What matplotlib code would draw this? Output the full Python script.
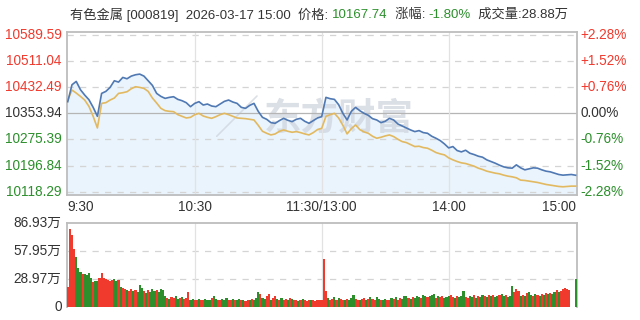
import numpy as np
import matplotlib
matplotlib.use("Agg")
import matplotlib.pyplot as plt

FONT = ['Liberation Sans', 'Noto Sans CJK SC', 'DejaVu Sans']
plt.rcParams['font.family'] = FONT

# ---- data ----
prev_close = 10353.94
price_ticks = [10589.59, 10511.04, 10432.49, 10353.94, 10275.39, 10196.84, 10118.29]
pct_labels = ['+2.28%', '+1.52%', '+0.76%', '0.00%', '-0.76%', '-1.52%', '-2.28%']
time_labels = ['9:30', '10:30', '11:30/13:00', '14:00', '15:00']
time_pos = [0, 60, 120, 180, 240]
vol_ticks = [0, 28.97, 57.95, 86.93]
vol_labels = ['0', '28.97万', '57.95万', '86.93万']

# index, sampled every 2 minutes (0..240)
index_price = [
    10389, 10440, 10450, 10425, 10409, 10395, 10372, 10345, 10414, 10420,
    10432, 10452, 10448, 10462, 10458, 10466, 10470, 10472, 10466, 10452,
    10438, 10414, 10405, 10399, 10402, 10404, 10396, 10392, 10386, 10374,
    10384, 10389, 10379, 10382, 10376, 10374, 10382, 10390, 10394, 10388,
    10384, 10372, 10369, 10378, 10384, 10360, 10342, 10336, 10326, 10324,
    10332, 10339, 10333, 10329, 10336, 10339, 10330, 10324, 10332, 10340,
    10344, 10402, 10398, 10396, 10380, 10354, 10334, 10360, 10372, 10362,
    10354, 10348, 10338, 10334, 10326, 10330, 10339, 10334, 10322, 10316,
    10310, 10304, 10299, 10302, 10296, 10294, 10285, 10279, 10272, 10262,
    10250, 10254, 10242, 10238, 10243, 10234, 10230, 10225, 10222, 10214,
    10209, 10204, 10198, 10193, 10190, 10189, 10199, 10190, 10184, 10187,
    10190, 10189, 10184, 10180, 10178, 10174, 10170, 10168, 10169, 10170,
    10167.74,
]
avg_price = [
    10394, 10424, 10415, 10405, 10394, 10375, 10345, 10310, 10384, 10386,
    10394, 10400, 10414, 10416, 10419, 10428, 10434, 10432, 10429, 10420,
    10400, 10385, 10369, 10362, 10360, 10359, 10350, 10345, 10340, 10342,
    10350, 10354, 10346, 10342, 10339, 10344, 10350, 10354, 10350, 10345,
    10340, 10339, 10338, 10336, 10334, 10318, 10300, 10294, 10289, 10292,
    10300, 10304, 10300, 10297, 10299, 10296, 10292, 10289, 10296, 10305,
    10309, 10345, 10350, 10354, 10340, 10318, 10292, 10308, 10319, 10305,
    10298, 10294, 10285, 10279, 10282, 10286, 10289, 10284, 10276, 10269,
    10266, 10260, 10254, 10255, 10251, 10249, 10243, 10236, 10232, 10229,
    10220, 10214, 10209, 10205, 10203, 10199, 10195, 10189, 10185, 10180,
    10177, 10174, 10172, 10168, 10165, 10163, 10160, 10153, 10152, 10150,
    10148, 10146, 10143, 10140, 10138, 10136, 10134, 10133, 10134, 10135,
    10135,
]

# volume per minute, in 万
volume = [
    21, 80, 74, 60, 52, 40, 36, 34, 34, 33,
    35, 30, 26, 27, 27, 30, 35, 30, 29, 28,
    27, 28, 29, 27, 28, 21, 20, 19, 18, 17,
    19, 17, 18, 16, 23, 20, 17, 15, 18, 16,
    19, 17, 18, 16, 19, 18, 12, 10, 9, 11,
    10, 12, 9, 10, 11, 9, 10, 16, 8, 9,
    7, 8, 9, 7, 8, 9, 7, 8, 10, 12,
    9, 8, 7, 9, 8, 10, 8, 7, 9, 8,
    7, 9, 8, 7, 6, 8, 7, 9, 8, 10,
    16, 14, 10, 9, 12, 14, 8, 10, 12, 9,
    8, 10, 7, 9, 8, 10, 9, 7, 8, 6,
    8, 9, 7, 6, 8, 7, 7, 6, 8, 7,
    8, 50, 17, 10, 8, 9, 11, 8, 10, 9,
    8, 7, 9, 8, 10, 13, 9, 8, 7, 9,
    10, 8, 9, 11, 9, 8, 11, 9, 7, 8,
    9, 7, 8, 10, 9, 11, 8, 10, 9, 12,
    12, 10, 9, 11, 10, 12, 11, 10, 13, 12,
    11, 12, 13, 14, 10, 12, 11, 12, 10, 11,
    12, 13, 11, 10, 12, 11, 12, 17, 11, 10,
    12, 11, 13, 10, 12, 11, 13, 12, 11, 13,
    12, 13, 11, 12, 13, 14, 12, 13, 11, 12,
    22, 16, 19, 17, 12, 13, 12, 15, 16, 13,
    12, 14, 13, 12, 14, 13, 15, 14, 15, 14,
    16, 18, 16, 17, 19, 20, 19, 18, 0, 0,
    28.88,
]
vol_dir = (
    "rrrrgggrgg" "ggrggrrrrr" "rrggrgrrgr" "rgrgggrgrg" "ggrggggrgr"
    "rggrgrrrgg" "rrgrrgggrg" "grrgggrrgr" "ggrgrrgrgg" "grggrrgrrg"
    "rgrrgrgrrg" "rgrrrgrrrr" "rrrgrrgrgr" "rgrgggrrgr" "rgrgrrggrg"
    "grrgrgrrgg" "grgrgggrgg" "rgggrgrrgg" "grrgrgggrr" "ggrgrggrgr"
    "grggrggrgg" "grrrgrgrgg" "rgrgrgrgrg" "grgrrrrrrr" "g"
)

RED = '#f03a2e'
GREEN = '#2c8f2c'
DARK = '#333333'
GRID = '#d4d4d4'
BORDER = '#bdbdbd'

fig = plt.figure(figsize=(6.4, 3.2), dpi=100)
ax = fig.add_axes([66.7 / 640, 1 - 195 / 320, 510 / 640, 163.3 / 320])
axv = fig.add_axes([66.7 / 640, 1 - 307.3 / 320, 510 / 640, 84.6 / 320])

# ---- price panel ----
xp = np.arange(0, 241, 2)
ylo, yhi = 10118.29 - 10, 10589.59 + 10
ax.fill_between(xp, index_price, ylo, color='#eaf4fc', zorder=1)
# watermark
ax.text(128, 10334, '东方财富', fontsize=27, fontweight='bold', style='italic',
        color='#cfd5de', alpha=0.75, ha='center', va='center', zorder=1.5)
ax.text(80, 10334, '╱', fontsize=30, fontweight='bold',
        color='#cfd5de', alpha=0.75, ha='center', va='center', zorder=1.5)
ax.plot(xp, avg_price, color='#e2b960', lw=1.2, zorder=3)
ax.plot(xp, index_price, color='#5079b3', lw=1.2, zorder=4)
for v in price_ticks:
    if v == prev_close:
        ax.axhline(v, color='#b5b5b5', lw=0.9, zorder=2)
    else:
        ax.axhline(v, color=GRID, lw=0.9, ls=(0, (5, 5)), zorder=2)
for t in time_pos[1:-1]:
    ax.axvline(t, color='#e2e2e2', lw=0.9, zorder=2)
ax.set_xlim(-0.5, 240.5)
ax.set_ylim(ylo, yhi)
ax.set_xticks([])
ax.set_yticks([])
for s in ax.spines.values():
    s.set_color(BORDER)
    s.set_linewidth(1.3)

for v, lab in zip(price_ticks, pct_labels):
    c = RED if v > prev_close else (GREEN if v < prev_close else DARK)
    ax.text(-0.010, v, f'{v:.2f}', transform=ax.get_yaxis_transform(),
            ha='right', va='center', color=c, fontsize=9.8)
    ax.text(1.008, v, lab, transform=ax.get_yaxis_transform(),
            ha='left', va='center', color=c, fontsize=9.8)

# ---- volume panel ----
bar_colors = [RED if d == 'r' else GREEN for d in vol_dir]
axv.bar(np.arange(len(volume)), volume, width=1.0, color=bar_colors, zorder=3)
for v in vol_ticks[1:3]:
    axv.axhline(v, color=GRID, lw=0.9, ls=(0, (5, 5)), zorder=1)
for t in time_pos[1:-1]:
    axv.axvline(t, color='#e2e2e2', lw=0.9, zorder=1)
axv.set_xlim(-0.5, 240.5)
axv.set_ylim(0, 86.93)
axv.set_xticks([])
axv.set_yticks([])
for k, s in axv.spines.items():
    s.set_color(BORDER)
    s.set_linewidth(1.3)
axv.spines['bottom'].set_visible(False)

for v, lab in zip(vol_ticks, vol_labels):
    axv.text(-0.010, v, lab, transform=axv.get_yaxis_transform(),
             ha='right', va='center', color=DARK, fontsize=9.8)

for t, lab in zip(time_pos, time_labels):
    ha = 'left' if t == 0 else ('right' if t == 240 else 'center')
    axv.text(t, 1.19, lab, transform=axv.get_xaxis_transform(),
             ha=ha, va='center', color=DARK, fontsize=9.8)

# ---- title made of coloured pieces ----
pieces = [
    ('有色金属 [000819]  2026-03-17 15:00  价格: ', DARK),
    ('10167.74', GREEN),
    ('  涨幅: ', DARK),
    ('-1.80%', GREEN),
    ('  成交量:28.88万', DARK),
]
renderer = fig.canvas.get_renderer()
texts = [fig.text(0, 1 - 15 / 320, s, color=c, fontsize=9.5, va='center', ha='left')
         for s, c in pieces]
widths = [t.get_window_extent(renderer).width for t in texts]
x = 319 - sum(widths) / 2
for t, w in zip(texts, widths):
    t.set_x(x / 640)
    x += w

fig.savefig('out.png', dpi=100)
